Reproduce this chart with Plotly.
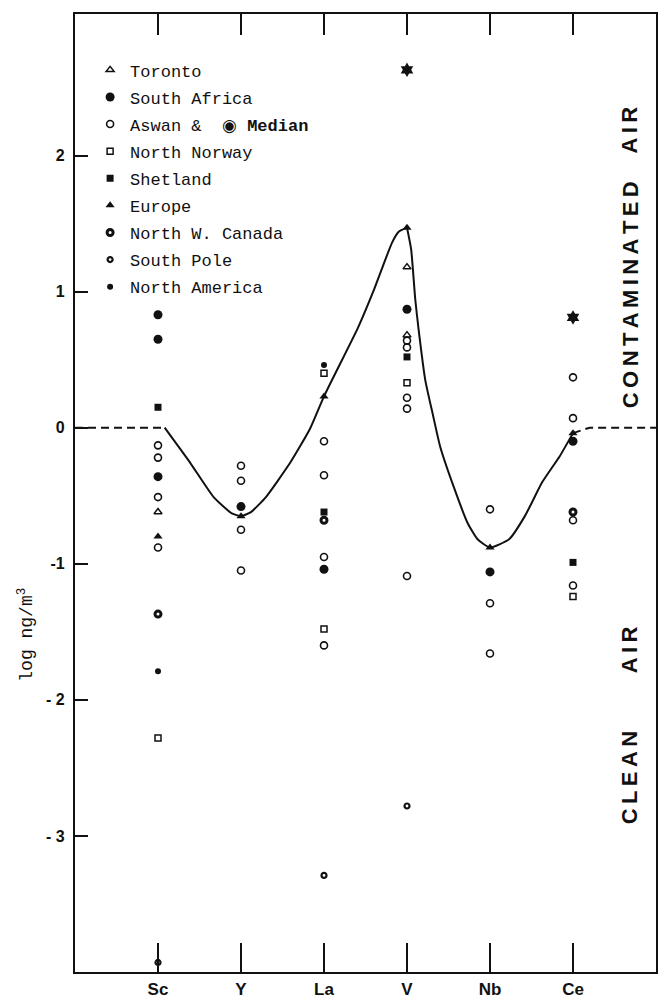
import plotly.graph_objects as go

# ---- data ----
CATS = ["Sc", "Y", "La", "V", "Nb", "Ce"]
POS = {c: i + 1 for i, c in enumerate(CATS)}

toronto_el = ["Sc", "V", "V"]
toronto_val = [-0.62, 1.18, 0.68]

south_africa_el = ["Sc", "Sc"]
south_africa_val = [0.83, 0.65]

aswan_el = ["Sc", "Sc", "Sc", "Sc", "Y", "Y", "Y", "Y", "La", "La", "La", "La",
            "V", "V", "V", "V", "V", "Nb", "Nb", "Nb", "Ce", "Ce", "Ce", "Ce"]
aswan_val = [-0.13, -0.22, -0.51, -0.88, -0.28, -0.39, -0.75, -1.05,
             -0.10, -0.35, -0.95, -1.60, 0.64, 0.59, 0.22, 0.14, -1.09,
             -0.60, -1.29, -1.66, 0.37, 0.07, -0.68, -1.16]

median_el = ["Sc", "Y", "La", "V", "Nb", "Ce"]
median_val = [-0.36, -0.58, -1.04, 0.87, -1.06, -0.10]

north_norway_el = ["Sc", "La", "La", "V", "Ce"]
north_norway_val = [-2.28, 0.40, -1.48, 0.33, -1.24]

shetland_el = ["Sc", "La", "V", "Ce"]
shetland_val = [0.15, -0.62, 0.52, -0.99]

europe_el = ["Sc", "Y", "La", "V", "Nb", "Ce"]
europe_val = [-0.80, -0.65, 0.23, 1.47, -0.88, -0.04]

nw_canada_el = ["Sc", "La", "Ce"]
nw_canada_val = [-1.37, -0.68, -0.62]

south_pole_el = ["Sc", "La", "V"]
south_pole_val = [-3.93, -3.29, -2.78]

north_america_el = ["Sc", "La"]
north_america_val = [-1.79, 0.46]

star_el = ["V", "Ce"]
star_val = [2.63, 0.81]

# curve drawn through the plot, x in category units
# rising part up to the V peak, then the falling part after it
curve_up_x = [1.08, 1.39, 1.67, 1.89, 2.0, 2.12, 2.30, 2.59, 2.83, 3.0, 3.41, 3.60,
              3.82, 3.90, 4.0]
curve_up_y = [0.0, -0.26, -0.51, -0.63, -0.65, -0.62, -0.51, -0.26, -0.01, 0.23, 0.735, 1.01,
              1.36, 1.44, 1.47]
curve_down_x = [4.0, 4.05, 4.10, 4.14, 4.22, 4.31, 4.40, 4.56, 4.73, 4.85, 5.0,
                5.23, 5.42, 5.63, 5.84, 6.0]
curve_down_y = [1.47, 1.31, 0.94, 0.72, 0.35, 0.10, -0.14, -0.43, -0.70, -0.82, -0.88,
                -0.82, -0.65, -0.40, -0.21, -0.04]
dash_left_x = [0.0, 1.08]
dash_left_y = [0.0, 0.0]
dash_right_x = [6.0, 6.2, 7.0]
dash_right_y = [-0.04, 0.0, 0.0]

YTICKS = [-3, -2, -1, 0, 1, 2]
YTICKTEXT = ["- 3", "- 2", "-1", "0", "1", "2"]

BLACK = "#111111"


def xs(els):
    return [POS[e] for e in els]


fig = go.Figure()

# curve and dashed baseline (on overlay x axis with identical range)
for lx, ly in [(dash_left_x, dash_left_y), (dash_right_x, dash_right_y)]:
    fig.add_trace(go.Scatter(x=lx, y=ly, mode="lines", xaxis="x2",
                             line=dict(color=BLACK, width=2, dash="8px,5px"),
                             showlegend=False, hoverinfo="skip"))
for cx, cy in [(curve_up_x, curve_up_y), (curve_down_x, curve_down_y)]:
    fig.add_trace(go.Scatter(x=cx, y=cy, mode="lines", xaxis="x2",
                             line=dict(color=BLACK, width=2, shape="spline", smoothing=0.5),
                             showlegend=False, hoverinfo="skip"))


def add(name, els, vals, symbol, size, lw=0, show=True, group=None):
    fig.add_trace(go.Scatter(
        x=xs(els), y=vals, mode="markers", name=name,
        legendgroup=group or name, showlegend=show,
        marker=dict(symbol=symbol, size=size, color=BLACK,
                    line=dict(color=BLACK, width=lw)),
    ))


add("Toronto", toronto_el, toronto_val, "triangle-up-open", 7, 1.5)
add("South Africa", south_africa_el, south_africa_val, "circle", 9)
add("Aswan &  \u25c9 <b>Median</b>", aswan_el, aswan_val, "circle-open", 7, 1.6)
add("Median", median_el, median_val, "circle", 9, show=False)
add("North Norway", north_norway_el, north_norway_val, "square-open", 6, 1.5)
add("Shetland", shetland_el, shetland_val, "square", 7)
add("Europe", europe_el, europe_val, "triangle-up", 8)
add("North W. Canada", nw_canada_el, nw_canada_val, "circle-open", 6, 3)
add("South Pole", south_pole_el, south_pole_val, "circle-open", 5, 2.2)
add("North America", north_america_el, north_america_val, "circle", 6)
add("North America stars", star_el, star_val, "hexagram", 11, show=False)

TS = "\u2009"


def spaced(word):
    return TS.join(list(word))


annots = []
for word, yv in [("CONTAMINATED", 0.98), ("AIR", 2.19), ("CLEAN", -2.57), ("AIR", -1.63)]:
    annots.append(dict(text=spaced(word), x=0.955, xref="paper", y=yv, yref="y",
                       textangle=-90, showarrow=False, xanchor="center", yanchor="middle",
                       font=dict(family="Liberation Sans", size=22, color=BLACK, weight="bold")))
annots.append(dict(text="log ng/m<sup>3</sup>", x=-0.084, xref="paper", y=-1.52, yref="y",
                   textangle=-90, showarrow=False, xanchor="center", yanchor="middle",
                   font=dict(family="Liberation Mono", size=18, color=BLACK)))

fig.update_layout(
    width=659, height=998,
    margin=dict(l=75, r=3, t=14, b=26),
    paper_bgcolor="white", plot_bgcolor="white",
    annotations=annots,
    showlegend=True,
    legend=dict(x=0.026, y=0.960, xanchor="left", yanchor="top",
                bgcolor="rgba(0,0,0,0)", traceorder="grouped", tracegroupgap=2,
                font=dict(family="Liberation Mono", size=17, color=BLACK),
                itemclick=False),
    xaxis=dict(range=[0, 7], tickvals=[1, 2, 3, 4, 5, 6], ticktext=CATS,
               ticks="inside", ticklen=29, tickwidth=1.5, tickcolor=BLACK,
               showline=True, linewidth=2.2, linecolor=BLACK, mirror=True,
               showgrid=False, zeroline=False, automargin=False,
               ticklabelstandoff=0,
               tickfont=dict(family="Liberation Sans", size=17, color=BLACK, weight="bold")),
    xaxis2=dict(range=[0, 7], overlaying="x", side="top", anchor="y",
                tickvals=[1, 2, 3, 4, 5, 6], ticks="inside", ticklen=21, tickwidth=1.5,
                tickcolor=BLACK, showticklabels=False, showline=False,
                showgrid=False, zeroline=False, automargin=False),
    yaxis=dict(range=[-4.0, 3.04], tickvals=YTICKS, ticktext=YTICKTEXT,
               ticks="inside", ticklen=13, tickwidth=2, tickcolor=BLACK,
               showline=True, linewidth=2.2, linecolor=BLACK, mirror=True,
               showgrid=False, zeroline=False, automargin=False,
               ticklabelstandoff=5,
               tickfont=dict(family="Liberation Sans", size=16, color=BLACK, weight="bold")),
)

fig.write_html("out.html", config={"displayModeBar": False},
               post_script="document.body.style.margin='0px';document.body.style.overflow='hidden';")
